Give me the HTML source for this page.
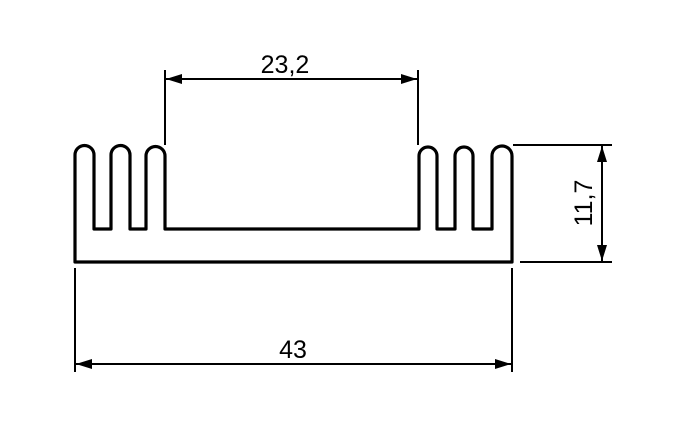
<!DOCTYPE html>
<html><head><style>html,body{margin:0;padding:0;background:#fff;}svg{display:block}</style></head>
<body>
<svg width="700" height="439" viewBox="0 0 700 439" xmlns="http://www.w3.org/2000/svg">
<defs>
<marker id="a" viewBox="0 0 16 10" refX="16" refY="5" markerWidth="16" markerHeight="10" markerUnits="userSpaceOnUse" orient="auto-start-reverse">
<path d="M0,0 L16,5 L0,10 z" fill="#000"/></marker>
</defs>
<path fill="none" stroke="#000" stroke-width="3.2" stroke-linejoin="round"
d="M75,262 L75,155 A9.5,9.5 0 0 1 94,155 L94,229 L111,229 L111,155 A9.5,9.5 0 0 1 130,155 L130,229 L146,229 L146,156 A9.5,9.5 0 0 1 165,156 L165,229
L419,229 L419,156 A9,9 0 0 1 437,156 L437,229 L455,229 L455,156 A9,9 0 0 1 473,156 L473,229 L492,229 L492,156 A10,10 0 0 1 512,156 L512,262 Z"/>
<g stroke="#000" stroke-width="2">
<line x1="165" y1="70" x2="165" y2="145"/>
<line x1="418" y1="70" x2="418" y2="145"/>
<line x1="166" y1="79" x2="417" y2="79" marker-start="url(#a)" marker-end="url(#a)"/>
<line x1="75" y1="268" x2="75" y2="372"/>
<line x1="512" y1="268" x2="512" y2="372"/>
<line x1="76" y1="364" x2="511" y2="364" marker-start="url(#a)" marker-end="url(#a)"/>
<line x1="513" y1="145" x2="612" y2="145"/>
<line x1="520" y1="262" x2="612" y2="262"/>
<line x1="602" y1="146" x2="602" y2="261" marker-start="url(#a)" marker-end="url(#a)"/>
</g>
<g font-family="Liberation Sans, sans-serif" font-size="25" fill="#000">
<text x="285" y="73" text-anchor="middle">23,2</text>
<text x="293" y="358" text-anchor="middle">43</text>
<text transform="translate(592,203) rotate(-90)" text-anchor="middle">11,7</text>
</g>
</svg>
</body></html>
